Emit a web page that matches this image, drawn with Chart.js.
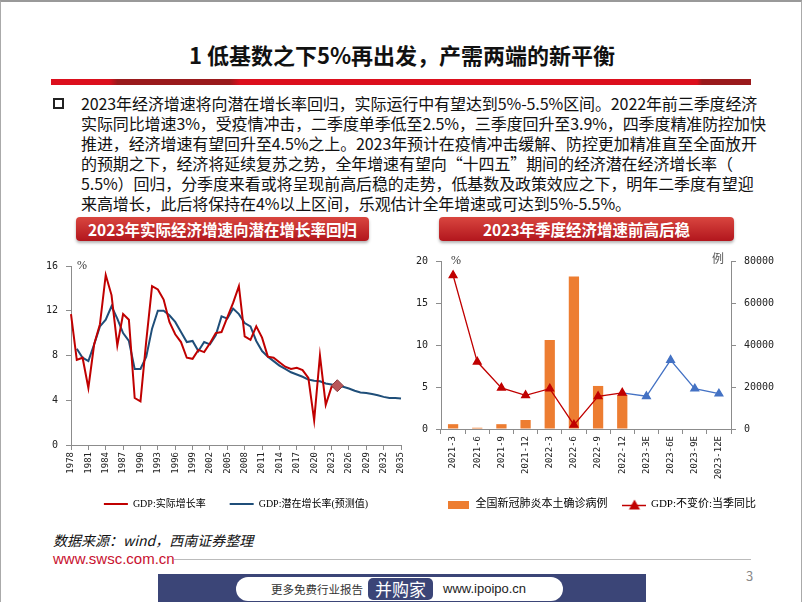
<!DOCTYPE html>
<html>
<head>
<meta charset="utf-8">
<script src="https://cdn.jsdelivr.net/npm/chart.js@4.4.0/dist/chart.umd.min.js"></script>
<style>
  body { margin: 0; background: #fff; }
  #slide {
    position: relative; width: 802px; height: 602px; overflow: hidden; box-sizing: border-box;
    border-top: 2px solid #999; border-left: 1px solid #aaa; border-right: 1px solid #aaa;
    font-family: "Noto Sans CJK SC", sans-serif; color: #111;
  }
  .abs { position: absolute; white-space: nowrap; }
  #title { left: 0; width: 802px; top: 38px; text-align: center; font-size: 22px; font-weight: bold; line-height: 28px; }
  #redbar {
    left: 50px; top: 77px; width: 700px; height: 6px;
    background: linear-gradient(90deg, #dc0f1d 0, #dc0f1d 8.3%, #9a1a1c 9.5%, #9a1a1c 25.5%, #dc0f1d 27%, #dc0f1d 92.3%, #9a1a1c 93%, #9a1a1c 100%);
  }
  #bullet { left: 52px; top: 96px; width: 7px; height: 7px; border: 2px solid #222; }
  #para { left: 80px; top: 91px; font-size: 16px; line-height: 20px; letter-spacing: -0.1px; }
  .banner {
    height: 24px; line-height: 24px; text-align: center; color: #fff; font-weight: bold; font-size: 15.5px;
    background: linear-gradient(#d9463f, #b2161d); border-radius: 4px; box-shadow: 0 2px 3px rgba(0,0,0,0.3);
  }
  canvas { position: absolute; }
  .unit { font-family: "Liberation Serif", "Noto Sans CJK SC", serif; font-size: 12px; color: #333; }
</style>
</head>
<body>
<div id="slide">
  <div id="title" class="abs">1 低基数之下5%再出发，产需两端的新平衡</div>
  <div id="redbar" class="abs"></div>
  <div id="bullet" class="abs"></div>
  <div id="para" class="abs">2023年经济增速将向潜在增长率回归，实际运行中有望达到5%-5.5%区间。2022年前三季度经济<br>实际同比增速3%，受疫情冲击，二季度单季低至2.5%，三季度回升至3.9%，四季度精准防控加快<br>推进，经济增速有望回升至4.5%之上。2023年预计在疫情冲击缓解、防控更加精准直至全面放开<br>的预期之下，经济将延续复苏之势，全年增速有望向“十四五”期间的经济潜在经济增长率（<br>5.5%）回归，分季度来看或将呈现前高后稳的走势，低基数及政策效应之下，明年二季度有望迎<br>来高增长，此后将保持在4%以上区间，乐观估计全年增速或可达到5%-5.5%。</div>

  <div class="abs banner" style="left:75px; top:215px; width:293px;">2023年实际经济增速向潜在增长率回归</div>
  <div class="abs banner" style="left:438px; top:215px; width:295px;">2023年季度经济增速前高后稳</div>

  <canvas id="gdpLong" width="390" height="267" style="left:30px; top:250px;"></canvas>
  <canvas id="gdpQuarter" width="402" height="270" style="left:400px; top:248px;"></canvas>
  <div class="abs unit" style="left:76px; top:256px;">%</div>
  <div class="abs unit" style="left:450px; top:251px;">%</div>
  <div class="abs unit" style="left:711px; top:247px; color:#555;">例</div>

  <div class="abs" style="left:52px; top:528px; font-size:14px; font-style:italic;">数据来源：wind，西南证券整理</div>
  <div class="abs" style="left:52px; top:548px; font-size:15px; font-family:'Liberation Sans',sans-serif; color:#c8102e;">www.swsc.com.cn</div>
  <div class="abs" style="left:173px; top:557px; width:577px; height:1px; background:#bbb;"></div>
  <div class="abs" style="left:157px; top:572px; width:488px; height:30px; background:#3b4577;"></div>
  <div class="abs" style="left:235px; top:575px; width:327px; height:24px; background:#fff; border-radius:12px;"></div>
  <div class="abs" style="left:270px; top:578px; font-size:11.5px; line-height:18px; color:#333;">更多免费行业报告</div>
  <div class="abs" style="left:367px; top:576px; width:65px; height:22px; line-height:22px; text-align:center; background:#3b4577; border-radius:5px; color:#fff; font-size:17px;">并购家</div>
  <div class="abs" style="left:442px; top:578px; font-size:13px; line-height:18px; font-family:'Liberation Sans',sans-serif; color:#222;">www.ipoipo.cn</div>
  <div class="abs" style="left:745px; top:564px; font-size:13px; color:#888;">3</div>
</div>

<script>
// ---- 左图：年度GDP增速 ----
const years = [
  '1978','1979','1980','1981','1982','1983','1984','1985','1986','1987',
  '1988','1989','1990','1991','1992','1993','1994','1995','1996','1997',
  '1998','1999','2000','2001','2002','2003','2004','2005','2006','2007',
  '2008','2009','2010','2011','2012','2013','2014','2015','2016','2017',
  '2018','2019','2020','2021','2022','2023','2024','2025','2026','2027',
  '2028','2029','2030','2031','2032','2033','2034','2035'
];
// 实际增长率 1978-2024（2024为菱形标注点）
const actualGrowth = [
  11.7, 7.6, 7.8, 5.1, 9.0, 10.8, 15.2, 13.4, 8.9, 11.7,
  11.2, 4.2, 3.9, 9.3, 14.2, 13.9, 13.0, 11.0, 9.9, 9.2,
  7.8, 7.7, 8.5, 8.3, 9.1, 10.0, 10.1, 11.4, 12.7, 14.2,
  9.7, 9.4, 10.6, 9.6, 7.9, 7.8, 7.4, 7.0, 6.8, 6.9,
  6.7, 6.0, 2.2, 8.0, 3.6, 5.2, 5.3
];
// 潜在增长率 1979-2035
const potentialGrowth = [
  null, 8.6, 7.8, 7.5, 9.0, 10.6, 11.2, 12.4, 11.3, 10.0,
  9.3, 6.8, 6.8, 7.9, 10.4, 12.0, 12.0, 11.6, 11.0, 10.1,
  9.2, 9.3, 8.4, 9.2, 9.0, 9.8, 11.5, 11.3, 12.2, 11.7,
  10.9, 10.6, 9.3, 8.4, 7.9, 7.5, 7.1, 6.8, 6.5, 6.3,
  6.1, 5.85, 5.75, 5.7, 5.5, 5.4, 5.3, 5.2, 5.05, 4.85,
  4.7, 4.65, 4.55, 4.45, 4.3, 4.2, 4.2, 4.15
];
const markedYear = '2024';

// ---- 右图：季度GDP与疫情 ----
const quarters = ['2021-3','2021-6','2021-9','2021-12','2022-3','2022-6','2022-9','2022-12','2023-3E','2023-6E','2023-9E','2023-12E'];
const covidCases = [2300, 600, 2300, 4300, 42400, 72600, 20500, 16200, null, null, null, null];
const gdpQuarterly = [18.3, 8.0, 4.9, 4.0, 4.8, 0.5, 3.9, 4.3, null, null, null, null];
const gdpForecast = [null, null, null, null, null, null, null, 4.3, 3.9, 8.2, 4.8, 4.2];

const axisGray = '#8c8c8c';
const monoFont = 'DejaVu Sans Mono';
const legendFont = '"Liberation Serif", "Noto Sans CJK SC", serif';

function legendIcon(w, h, draw) {
  const c = document.createElement('canvas');
  c.width = w; c.height = h;
  draw(c.getContext('2d'));
  return c;
}

const plainNum = v => String(v);
const markIdx = years.indexOf(markedYear);

new Chart(document.getElementById('gdpLong'), {
  type: 'line',
  data: {
    labels: years,
    datasets: [
      {
        label: 'GDP:实际增长率',
        data: actualGrowth,
        borderColor: '#c00000',
        borderWidth: 2,
        pointStyle: 'rectRot',
        pointRadius: ctx => ctx.dataIndex === markIdx ? 6 : 0,
        pointBackgroundColor: '#b9575a',
        pointBorderColor: '#8a3a3d',
        pointBorderWidth: 1
      },
      {
        label: 'GDP:潜在增长率(预测值)',
        data: potentialGrowth,
        borderColor: '#1f4e79',
        borderWidth: 2,
        pointRadius: 0
      }
    ]
  },
  options: {
    responsive: false,
    animation: false,
    devicePixelRatio: 1,
    layout: { padding: { top: 14, right: 20, left: 0, bottom: 0 } },
    scales: {
      x: {
        offset: false,
        grid: {
          drawOnChartArea: false, tickLength: 5,
          tickColor: c => (c.index % 3 === 0 ? axisGray : 'rgba(0,0,0,0)')
        },
        border: { color: axisGray },
        ticks: {
          autoSkip: false, minRotation: 90, maxRotation: 90, padding: 2,
          color: '#222', font: { family: monoFont, size: 9 },
          callback: (v, i) => (i % 3 === 0 ? years[i] : '')
        },
        afterFit: s => { s.height = 30; s.paddingLeft = 0; s.paddingRight = 0; }
      },
      y: {
        min: 0, max: 16,
        ticks: { stepSize: 4, padding: 8, color: '#222', font: { family: monoFont, size: 10 }, callback: plainNum },
        grid: { drawOnChartArea: false, tickLength: 5, color: axisGray },
        border: { color: axisGray },
        afterFit: s => { s.width = 40; s.paddingTop = 0; s.paddingBottom = 0; }
      }
    },
    plugins: {
      tooltip: { enabled: false },
      legend: {
        position: 'bottom',
        fullSize: false,
        labels: {
          usePointStyle: true, pointStyleWidth: 24, boxHeight: 8, padding: 24,
          color: '#333', font: { family: legendFont, size: 10 },
          generateLabels: chart => chart.data.datasets.map((ds, i) => ({
            text: ds.label, datasetIndex: i, hidden: false,
            pointStyle: 'line', strokeStyle: ds.borderColor, fillStyle: ds.borderColor, lineWidth: 2
          }))
        }
      }
    }
  }
});

const barIcon = legendIcon(21, 8, g => { g.fillStyle = '#ed7d31'; g.fillRect(0, 0, 21, 8); });
const triIcon = legendIcon(24, 11, g => {
  g.strokeStyle = '#c00000'; g.lineWidth = 1.5;
  g.beginPath(); g.moveTo(0, 6.5); g.lineTo(24, 6.5); g.stroke();
  g.fillStyle = '#c00000';
  g.beginPath(); g.moveTo(12, 0.5); g.lineTo(17.5, 10.5); g.lineTo(6.5, 10.5); g.closePath(); g.fill();
});

new Chart(document.getElementById('gdpQuarter'), {
  data: {
    labels: quarters,
    datasets: [
      {
        type: 'bar', label: '全国新冠肺炎本土确诊病例', data: covidCases, yAxisID: 'y1',
        backgroundColor: '#ed7d31', barPercentage: 0.5, categoryPercentage: 0.85, order: 3
      },
      {
        type: 'line', label: 'GDP:不变价:当季同比', data: gdpQuarterly, yAxisID: 'y',
        borderColor: '#c00000', backgroundColor: '#c00000', borderWidth: 1.3,
        pointStyle: 'triangle', pointRadius: 4.5, order: 1
      },
      {
        type: 'line', label: '预测', data: gdpForecast, yAxisID: 'y',
        borderColor: '#4472c4', backgroundColor: '#4472c4', borderWidth: 1.3,
        pointStyle: 'triangle', pointRadius: ctx => (ctx.dataIndex === 7 ? 0 : 4.5), order: 2
      }
    ]
  },
  options: {
    responsive: false,
    animation: false,
    devicePixelRatio: 1,
    layout: { padding: { top: 11, right: 0, left: 0, bottom: 0 } },
    scales: {
      x: {
        offset: true,
        grid: { offset: true, drawOnChartArea: false, tickLength: 5, color: axisGray },
        border: { color: axisGray },
        ticks: {
          autoSkip: false, minRotation: 90, maxRotation: 90, padding: 2,
          color: '#222', font: { family: monoFont, size: 9 }
        },
        afterFit: s => { s.height = 54; s.paddingLeft = 0; s.paddingRight = 0; }
      },
      y: {
        position: 'left', min: 0, max: 20,
        ticks: { stepSize: 5, padding: 8, color: '#222', font: { family: monoFont, size: 10 }, callback: plainNum },
        grid: { drawOnChartArea: false, tickLength: 5, color: axisGray },
        border: { color: axisGray },
        afterFit: s => { s.width = 40; s.paddingTop = 0; s.paddingBottom = 0; }
      },
      y1: {
        position: 'right', min: 0, max: 80000,
        ticks: { stepSize: 20000, padding: 8, color: '#222', font: { family: monoFont, size: 10 }, callback: plainNum },
        grid: { drawOnChartArea: false, tickLength: 5, color: axisGray },
        border: { color: axisGray },
        afterFit: s => { s.width = 72; s.paddingTop = 0; s.paddingBottom = 0; }
      }
    },
    plugins: {
      tooltip: { enabled: false },
      legend: {
        position: 'bottom',
        labels: {
          usePointStyle: true, pointStyleWidth: 22, boxHeight: 8, padding: 16,
          color: '#333', font: { family: legendFont, size: 11 },
          generateLabels: () => [
            { text: '全国新冠肺炎本土确诊病例', datasetIndex: 0, hidden: false, pointStyle: barIcon, lineWidth: 0 },
            { text: 'GDP:不变价:当季同比', datasetIndex: 1, hidden: false, pointStyle: triIcon, lineWidth: 0 }
          ]
        }
      }
    }
  }
});
</script>
</body>
</html>
